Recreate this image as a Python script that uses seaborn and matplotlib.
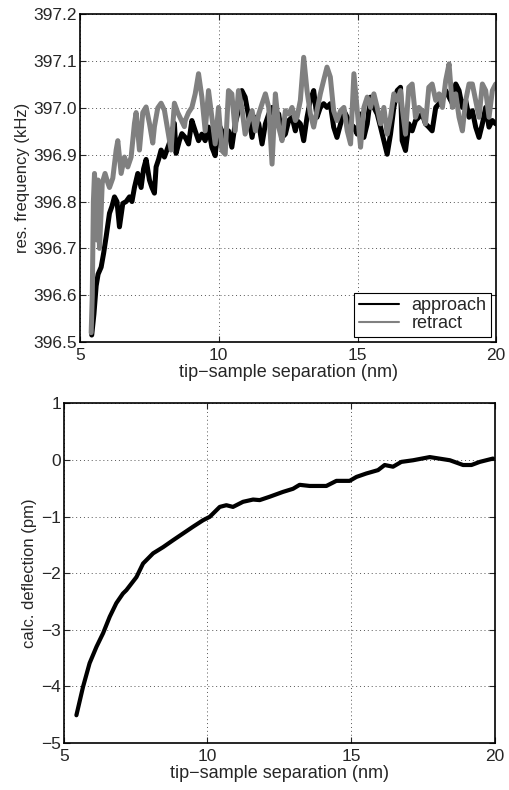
import numpy as np
import pandas as pd
import matplotlib
matplotlib.use("Agg")
import matplotlib.pyplot as plt
import seaborn as sns

# approach trace (nm, kHz)
approach_x = [5.42, 5.50, 5.58, 5.65, 5.76, 5.85, 5.94, 6.06, 6.15, 6.24, 6.33, 6.42,
              6.54, 6.66, 6.78, 6.87, 6.96, 7.08, 7.20, 7.29, 7.38, 7.50, 7.59, 7.68,
              7.74, 7.83, 7.92, 8.04, 8.13, 8.22, 8.31, 8.40, 8.46, 8.58, 8.67,
              8.79, 8.91, 9.03, 9.15, 9.27, 9.39, 9.51, 9.63, 9.75, 9.87, 9.99, 10.11,
              10.23, 10.35, 10.47, 10.59, 10.71, 10.83, 10.95, 11.08, 11.20, 11.32,
              11.44, 11.56, 11.68, 11.80, 11.92, 12.04, 12.16, 12.28, 12.40, 12.52,
              12.64, 12.76,
              12.82, 12.94, 13.06, 13.18, 13.30, 13.42, 13.54, 13.66, 13.78, 13.90,
              14.02, 14.14, 14.26, 14.39, 14.51, 14.63, 14.75, 14.87, 14.99, 15.11,
              15.23, 15.35, 15.47, 15.59, 15.71, 15.83, 15.95, 16.07, 16.19, 16.31,
              16.43, 16.55,
              16.61, 16.73, 16.85, 16.97, 17.09, 17.21, 17.33, 17.45, 17.57, 17.69,
              17.82, 17.94, 18.06, 18.18, 18.30, 18.42, 18.54, 18.66, 18.78, 18.90,
              19.02, 19.14, 19.26, 19.38, 19.50, 19.62, 19.74, 19.86, 19.98]
approach_y = [396.515, 396.56, 396.62, 396.645, 396.66, 396.69, 396.725, 396.775, 396.79,
              396.81, 396.80, 396.746, 396.796, 396.80, 396.81, 396.80, 396.83, 396.86,
              396.83, 396.87, 396.89, 396.846, 396.83, 396.818, 396.874, 396.89, 396.91,
              396.895, 396.91, 396.925, 396.95, 396.967, 396.903, 396.93, 396.945,
              396.937, 396.923, 396.973, 396.951, 396.930, 396.944, 396.930, 396.959,
              396.916, 396.898, 396.966, 396.951, 396.930, 396.951, 396.916, 396.966,
              396.994, 397.037, 397.023, 396.980, 396.937, 396.980, 396.966, 396.923,
              396.966, 396.987, 397.001, 396.973, 396.987, 396.937, 396.944, 396.973,
              396.980, 396.951,
              396.973, 396.966, 396.930, 396.980, 397.016, 397.037, 396.980, 397.001,
              397.009, 397.001, 397.009, 396.959, 396.937, 396.966, 396.994, 396.980,
              396.966, 396.959, 396.944, 396.987, 396.937, 396.966, 397.023, 397.001,
              396.987, 396.959, 396.930, 396.901, 396.944, 397.001, 397.037, 397.044,
              396.930, 396.909, 396.966, 396.951, 396.973, 396.980, 396.987, 396.966,
              396.959, 396.951, 397.001, 397.009, 397.023, 397.037, 397.023, 397.009,
              397.051, 397.037, 397.001, 397.016, 396.980, 396.994, 396.959, 396.937,
              396.966, 397.001, 396.959, 396.973, 396.966]

# retract trace (nm, kHz)
retract_x = [5.40, 5.44, 5.48, 5.52, 5.56, 5.60, 5.65, 5.70, 5.76, 5.80, 5.90, 6.00,
             6.06, 6.18, 6.30, 6.36, 6.48, 6.60, 6.72, 6.84, 6.96, 7.02, 7.14, 7.26,
             7.38, 7.50, 7.62, 7.68, 7.80, 7.92, 8.04, 8.16, 8.28, 8.40, 8.52, 8.64,
             8.76] + approach_x[35:]
retract_y = [396.52, 396.60, 396.80, 396.86, 396.80, 396.718, 396.846, 396.70, 396.78,
             396.84, 396.86, 396.84, 396.83, 396.85, 396.91, 396.93, 396.86, 396.895,
             396.874, 396.895, 396.967, 396.99, 396.91, 396.99, 397.002, 396.967,
             396.925, 396.96, 397.00, 397.01, 396.995, 396.952, 396.91, 397.01, 396.99,
             396.975, 396.96,
             396.973, 396.990, 397.001, 397.030, 397.073, 397.023, 396.951, 397.037,
             396.980, 396.923, 397.001, 396.909, 396.901, 397.037, 397.030, 396.951,
             397.037, 397.001, 396.944, 396.973, 396.994, 396.951, 396.987, 397.009,
             397.030, 397.001, 396.880, 397.030, 396.959, 396.930, 396.994, 396.987,
             397.001, 396.973,
             396.980, 397.016, 397.108, 397.037, 396.987, 396.959, 396.994, 397.030,
             397.059, 397.087, 397.066, 396.994, 396.973, 396.994, 397.001, 396.951,
             396.923, 397.073, 396.994, 396.916, 397.001, 397.023, 397.001, 397.030,
             397.001, 396.966, 397.001, 396.944, 396.980, 397.030, 397.016, 397.037,
             397.001, 396.944, 397.044, 397.051, 396.980, 397.001, 396.994, 396.966,
             397.044, 397.051, 397.016, 397.030, 397.001, 397.059, 397.094, 397.001,
             397.030, 396.980, 396.951, 397.016, 397.051, 397.051, 397.016, 396.980,
             397.051, 397.037, 396.980, 397.037, 397.051]

# calculated deflection (nm, pm)
defl_x = [5.44, 5.67, 5.90, 6.14, 6.37, 6.60, 6.83, 7.06, 7.18, 7.53, 7.76, 8.11,
          8.46, 8.80, 9.15, 9.50, 9.85, 10.08, 10.43, 10.66, 10.89, 11.24, 11.59,
          11.82, 12.17, 12.63, 12.98, 13.21, 13.56, 14.14, 14.49, 14.95, 15.19,
          15.53, 15.94, 16.17, 16.46, 16.75, 17.16, 17.74, 18.44, 18.90, 19.19,
          19.48, 19.94]
defl_y = [-4.51, -4.01, -3.59, -3.30, -3.06, -2.77, -2.53, -2.36, -2.30, -2.07, -1.83,
          -1.65, -1.54, -1.42, -1.30, -1.18, -1.065, -1.006, -0.83, -0.80, -0.83,
          -0.74, -0.70, -0.71, -0.65, -0.565, -0.51, -0.44, -0.46, -0.46, -0.37,
          -0.37, -0.30, -0.24, -0.18, -0.09, -0.12, -0.035, -0.006, 0.05, -0.006,
          -0.09, -0.09, -0.035, 0.024]

freq_ticks = [396.5, 396.6, 396.7, 396.8, 396.9, 397.0, 397.1, 397.2]
defl_ticks = [-5, -4, -3, -2, -1, 0, 1]
sep_ticks = [5, 10, 15, 20]

sns.set_style("ticks")
plt.rcParams['font.family'] = ['Liberation Sans', 'DejaVu Sans']
plt.rcParams['font.size'] = 10
plt.rcParams['axes.unicode_minus'] = True

GREY = '#808080'

fig = plt.figure(figsize=(5.1, 7.9), dpi=100)
ax1 = fig.add_axes([0.157, 0.567, 0.816, 0.415])
ax2 = fig.add_axes([0.125, 0.0595, 0.845, 0.430])

df_top = pd.concat([
    pd.DataFrame({'sep': approach_x, 'freq': approach_y, 'trace': 'approach'}),
    pd.DataFrame({'sep': retract_x, 'freq': retract_y, 'trace': 'retract'}),
], ignore_index=True)
df_bot = pd.DataFrame({'sep': defl_x, 'defl': defl_y})

sns.lineplot(data=df_top, x='sep', y='freq', hue='trace',
             palette={'approach': 'black', 'retract': GREY},
             estimator=None, sort=False, lw=3.6, ax=ax1)
sns.lineplot(data=df_bot, x='sep', y='defl', color='black',
             estimator=None, sort=False, lw=3.0, ax=ax2)


def style_axes(ax, yticks, ylabel, fmt):
    ax.set_xlim(5, 20)
    ax.set_ylim(yticks[0], yticks[-1])
    ax.set_xticks(sep_ticks)
    ax.set_yticks(yticks)
    ax.set_yticklabels([fmt(v) for v in yticks])
    ax.set_xlabel('tip\u2212sample separation (nm)', fontsize=13, labelpad=1)
    ax.set_ylabel(ylabel, fontsize=12, labelpad=3)
    ax.grid(True, color='#555555', linestyle=(0, (1, 3)), lw=0.7)
    ax.tick_params(direction='in', top=True, right=True, length=4, width=0.8,
                   labelsize=12.5, pad=2)
    ax.tick_params(axis='x', pad=4)
    for s in ax.spines.values():
        s.set_color('black')
        s.set_linewidth(1.2)


style_axes(ax1, freq_ticks, 'res. frequency (kHz)', lambda v: f'{v:.1f}')
style_axes(ax2, defl_ticks, 'calc. deflection (pm)',
           lambda v: f'{v:d}'.replace('-', '\u2212'))

leg = ax1.legend(loc='lower right', frameon=True, fancybox=False, edgecolor='black',
                 framealpha=1, fontsize=13, borderaxespad=0.3, handlelength=2.2,
                 labelspacing=0.05, borderpad=0.25, handletextpad=0.7)
leg.get_frame().set_linewidth(0.8)
for line in leg.get_lines():
    line.set_linewidth(1.5)

fig.savefig('out.png', dpi=100)
